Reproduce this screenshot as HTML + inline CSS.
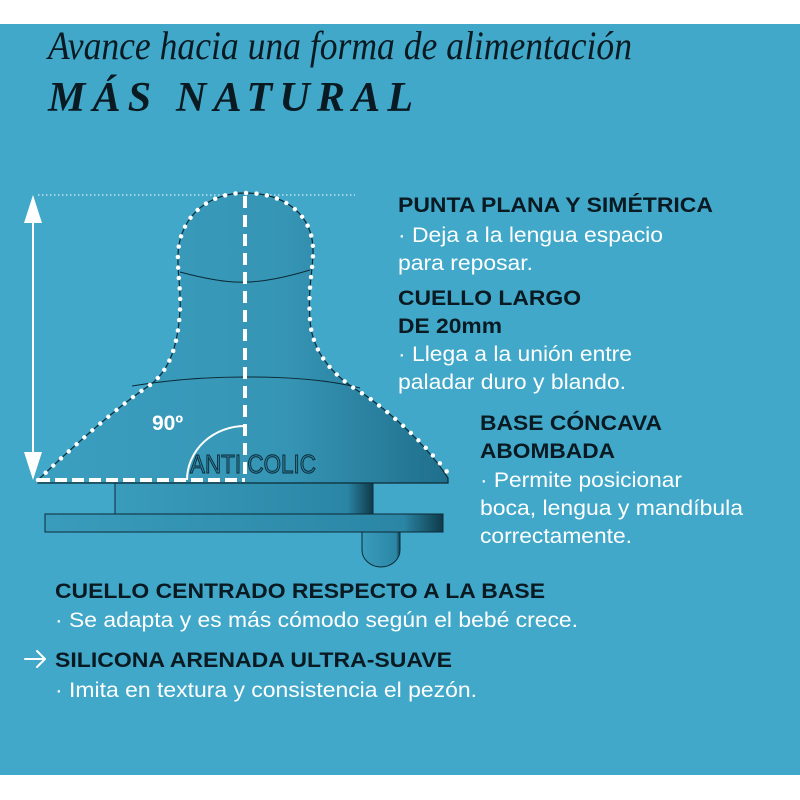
<!DOCTYPE html>
<html><head><meta charset="utf-8"><style>
html,body{margin:0;padding:0;background:#fff}
svg{display:block}
</style></head><body>
<svg width="800" height="800" viewBox="0 0 800 800" xmlns="http://www.w3.org/2000/svg">
<defs>
<linearGradient id="g1" x1="0" x2="1" y1="0" y2="0">
<stop offset="0" stop-color="#3b9fc0"/><stop offset="0.6" stop-color="#3695b5"/><stop offset="1" stop-color="#1f6f8c"/>
</linearGradient>
<linearGradient id="g2" x1="0" x2="1">
<stop offset="0" stop-color="#3a9cbc"/><stop offset="0.9" stop-color="#2b86a5"/><stop offset="1" stop-color="#0f3a4a"/>
</linearGradient>
</defs>
<rect x="0" y="24" width="800" height="751" fill="#41a8c9"/>
<text x="48" y="59" font-family="Liberation Serif, serif" font-style="italic" font-size="40" fill="#0a1a22" textLength="584" lengthAdjust="spacingAndGlyphs">Avance hacia una forma de alimentación</text>
<text x="48" y="111" font-family="Liberation Serif, serif" font-style="italic" font-weight="bold" font-size="42" fill="#0a1a22" textLength="365" lengthAdjust="spacing">MÁS NATURAL</text>

<line x1="38" y1="195" x2="355" y2="195" stroke="#fff" stroke-width="1" stroke-dasharray="1.5 2.5"/>
<line x1="33" y1="212" x2="33" y2="462" stroke="#fff" stroke-width="2"/>
<polygon points="33,195 24,223 42,223" fill="#fff"/>
<polygon points="33,480 24,452 42,452" fill="#fff"/>

<rect x="115" y="483" width="258" height="32" fill="url(#g2)" stroke="#0c2a36" stroke-width="1"/>
<rect x="45" y="514" width="398" height="18" fill="url(#g2)" stroke="#0c2a36" stroke-width="1"/>
<path d="M362,532 L362,550 A19,17 0 0 0 400,550 L400,532 Z" fill="url(#g2)" stroke="#0c2a36" stroke-width="1"/>

<path d="M38,480 C80,440 120,405 150,385 C170,370 178,345 180,310 C181,290 178,278 178,262 C176,220 205,193 245,193 C285,193 315,215 313,255 C312,275 308,290 310,320 C312,350 330,375 365,395 C400,420 430,450 448,478 L448,483 L38,483 Z" fill="url(#g1)" stroke="#0c2a36" stroke-width="1.2"/>
<path d="M180,272 C210,280 230,283 245,282 C265,282 290,276 310,270" fill="none" stroke="#0c2a36" stroke-width="1"/>
<path d="M132,386 C180,378 220,377 245,377 C290,377 330,380 360,388" fill="none" stroke="#0c2a36" stroke-width="1"/>
<path d="M38,480 C80,440 120,405 150,385 C170,370 178,345 180,310 C181,290 178,278 178,262 C176,220 205,193 245,193 C285,193 315,215 313,255 C312,275 308,290 310,320 C312,350 330,375 365,395 C400,420 430,450 452,478" fill="none" stroke="#fff" stroke-width="4.5" stroke-linecap="round" stroke-dasharray="0 10.5"/>
<line x1="245" y1="196" x2="245" y2="480" stroke="#fff" stroke-width="4" stroke-dasharray="12 7"/>
<line x1="38" y1="480" x2="245" y2="480" stroke="#fff" stroke-width="4" stroke-dasharray="12 5"/>
<path d="M187,480 A58,54 0 0 1 245,426" fill="none" stroke="#fff" stroke-width="2"/>
<text x="152" y="430" font-family="Liberation Sans, sans-serif" font-weight="bold" font-size="21" fill="#fff">90º</text>
<text x="190" y="473" font-family="Liberation Sans, sans-serif" font-size="26" fill="#2a7f9c" stroke="#0c2a36" stroke-width="1" textLength="126" lengthAdjust="spacingAndGlyphs">ANTI COLIC</text>

<g font-family="Liberation Sans, sans-serif" font-size="21">
<g font-weight="bold" fill="#0a1a22">
<text x="398" y="212" textLength="315" lengthAdjust="spacingAndGlyphs">PUNTA PLANA Y SIMÉTRICA</text>
<text x="398" y="305" textLength="183" lengthAdjust="spacingAndGlyphs">CUELLO LARGO</text>
<text x="398" y="333" textLength="104" lengthAdjust="spacingAndGlyphs">DE 20mm</text>
<text x="480" y="430" textLength="182" lengthAdjust="spacingAndGlyphs">BASE CÓNCAVA</text>
<text x="480" y="458" textLength="135" lengthAdjust="spacingAndGlyphs">ABOMBADA</text>
<text x="55" y="598" textLength="490" lengthAdjust="spacingAndGlyphs">CUELLO CENTRADO RESPECTO A LA BASE</text>
<text x="55" y="667" textLength="397" lengthAdjust="spacingAndGlyphs">SILICONA ARENADA ULTRA-SUAVE</text>
</g>
<g fill="#fff">
<text x="398" y="242" textLength="265" lengthAdjust="spacingAndGlyphs">· Deja a la lengua espacio</text>
<text x="398" y="270" textLength="135" lengthAdjust="spacingAndGlyphs">para reposar.</text>
<text x="398" y="361" textLength="234" lengthAdjust="spacingAndGlyphs">· Llega a la unión entre</text>
<text x="398" y="389" textLength="228" lengthAdjust="spacingAndGlyphs">paladar duro y blando.</text>
<text x="480" y="487" textLength="202" lengthAdjust="spacingAndGlyphs">· Permite posicionar</text>
<text x="480" y="515" textLength="263" lengthAdjust="spacingAndGlyphs">boca, lengua y mandíbula</text>
<text x="480" y="543" textLength="152" lengthAdjust="spacingAndGlyphs">correctamente.</text>
<text x="55" y="627" textLength="523" lengthAdjust="spacingAndGlyphs">· Se adapta y es más cómodo según el bebé crece.</text>
<text x="55" y="697" textLength="422" lengthAdjust="spacingAndGlyphs">· Imita en textura y consistencia el pezón.</text>
</g>
</g>
<path d="M25,659 L45,659 M37,651 L45,659 L37,667" fill="none" stroke="#fff" stroke-width="2" stroke-linecap="round" stroke-linejoin="round"/>
</svg>
</body></html>
